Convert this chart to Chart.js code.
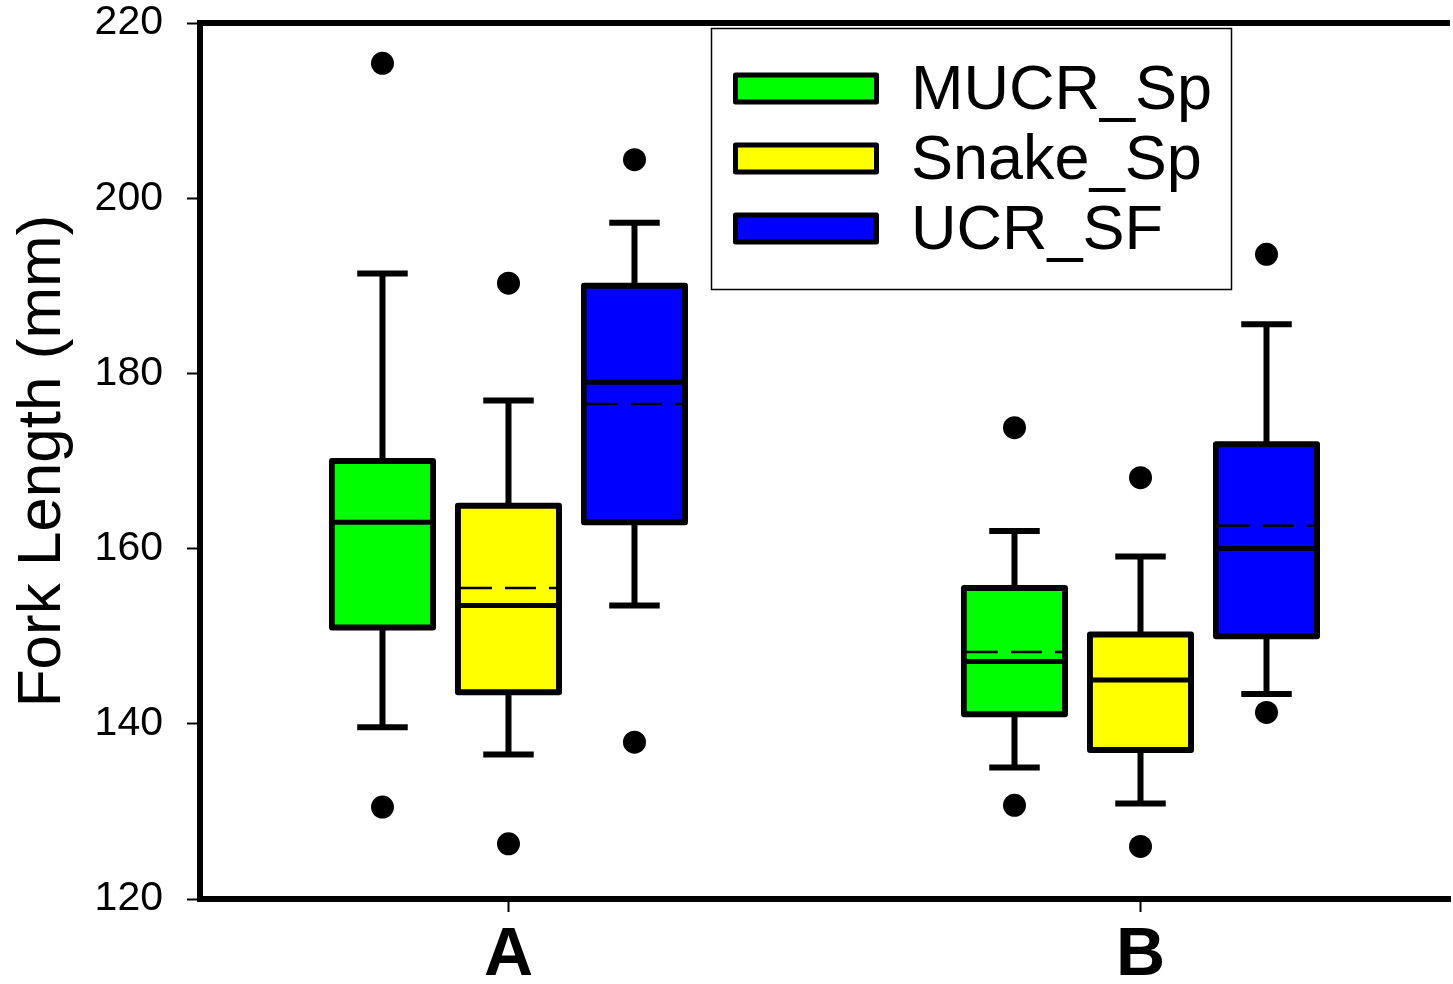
<!DOCTYPE html>
<html>
<head>
<meta charset="utf-8">
<script src="https://cdn.jsdelivr.net/npm/chart.js@4"></script>
<style>
  html, body { margin: 0; padding: 0; background: #ffffff; }
  #c { display: block; }
</style>
</head>
<body>
<canvas id="c" width="1453" height="984"></canvas>
<script>
// ---------------- DATA ----------------
const categories = ['A', 'B'];
const seriesNames = ['MUCR_Sp', 'Snake_Sp', 'UCR_SF'];
const seriesColors = ['#00FF00', '#FFFF00', '#0000FF'];
const yTicks = [120, 140, 160, 180, 200, 220];
// [series][category]
const whiskerLow  = [[139.6, 135.0], [136.5, 130.9], [153.5, 143.4]];
const boxQ1       = [[151.0, 141.1], [143.6, 137.0], [163.0, 150.0]];
const medians     = [[163.0, 147.1], [153.5, 145.0], [179.0, 160.0]];
const means       = [[163.0, 148.2], [155.5, 145.0], [176.5, 162.6]];
const boxQ3       = [[170.0, 155.5], [164.9, 150.2], [190.0, 171.9]];
const whiskerHigh = [[191.4, 162.0], [176.9, 159.1], [197.2, 185.6]];
const outliers    = [
  [[215.4, 130.5], [173.8, 130.7]],
  [[190.3, 126.3], [168.1, 126.0]],
  [[204.4, 137.9], [193.6, 141.3]]
];

const FONT = '"Liberation Sans", Arial, Helvetica, sans-serif';
Chart.defaults.font.family = FONT;
Chart.defaults.color = '#000';

function seg(ctx, x1, y1, x2, y2) {
  ctx.beginPath(); ctx.moveTo(x1, y1); ctx.lineTo(x2, y2); ctx.stroke();
}

const boxPlugin = {
  id: 'boxExtras',
  afterDatasetsDraw(chart) {
    const ctx = chart.ctx;
    const y = chart.scales.y;
    chart.data.datasets.forEach((ds, s) => {
      const meta = chart.getDatasetMeta(s);
      meta.data.forEach((bar, i) => {
        const cx = bar.x, w = bar.width;
        const left = cx - w / 2, right = cx + w / 2;
        const pq1 = y.getPixelForValue(boxQ1[s][i]);
        const pq3 = y.getPixelForValue(boxQ3[s][i]);
        const pHi = y.getPixelForValue(whiskerHigh[s][i]);
        const pLo = y.getPixelForValue(whiskerLow[s][i]);
        const pMed = y.getPixelForValue(medians[s][i]);
        const pMean = y.getPixelForValue(means[s][i]);
        const capHalf = w * 0.25;
        ctx.save();
        ctx.strokeStyle = '#000';
        ctx.fillStyle = '#000';
        ctx.lineCap = 'butt';
        // whiskers
        ctx.lineWidth = 6;
        seg(ctx, cx, pq3, cx, pHi);
        seg(ctx, cx, pq1, cx, pLo);
        seg(ctx, cx - capHalf, pHi, cx + capHalf, pHi);
        seg(ctx, cx - capHalf, pLo, cx + capHalf, pLo);
        // mean (dashed)
        ctx.lineWidth = 2.5;
        ctx.setLineDash([31, 13]);
        seg(ctx, left + 3, pMean, right - 3, pMean);
        ctx.setLineDash([]);
        // median
        ctx.lineWidth = 5;
        seg(ctx, left, pMed, right, pMed);
        // box outline
        ctx.lineWidth = 6;
        ctx.lineJoin = 'round';
        ctx.strokeRect(left, pq3, w, pq1 - pq3);
        // outliers
        outliers[s][i].forEach(v => {
          ctx.beginPath();
          ctx.arc(cx, y.getPixelForValue(v), 11.5, 0, Math.PI * 2);
          ctx.fill();
        });
        ctx.restore();
      });
    });
  },
  afterDraw(chart) {
    const ctx = chart.ctx;
    const a = chart.chartArea;
    ctx.save();
    ctx.strokeStyle = '#000';
    ctx.fillStyle = '#000';
    ctx.lineWidth = 6;
    seg(ctx, a.left - 3, a.top, a.right, a.top);
    ctx.fillRect(a.left - 3, a.bottom - 1, 4, 4);
    // legend
    ctx.lineWidth = 1.5;
    ctx.strokeRect(711.5, 28.5, 520, 261);
    ctx.font = '63px ' + FONT;
    ctx.textBaseline = 'alphabetic';
    ctx.textAlign = 'left';
    seriesNames.forEach((name, k) => {
      const cy = 88.5 + k * 70;
      ctx.fillStyle = seriesColors[k];
      ctx.fillRect(735.5, cy - 13.5, 141, 27);
      ctx.lineWidth = 5;
      ctx.lineJoin = 'round';
      ctx.strokeStyle = '#000';
      ctx.strokeRect(735.5, cy - 13.5, 141, 27);
      ctx.fillStyle = '#000';
      ctx.fillText(name, 911, cy + 20.5);
    });
    ctx.restore();
  }
};

new Chart(document.getElementById('c'), {
  type: 'bar',
  data: {
    datasets: seriesNames.map((name, s) => ({
      label: name,
      data: categories.map((c, i) => ({ x: i + 1, y: [boxQ1[s][i], boxQ3[s][i]] })),
      backgroundColor: seriesColors[s],
      borderWidth: 0,
      categoryPercentage: 0.5981,
      barPercentage: 0.8016
    }))
  },
  options: {
    responsive: false,
    animation: false,
    layout: { padding: { top: 0, right: 3, left: 0, bottom: 0 } },
    plugins: { legend: { display: false }, tooltip: { enabled: false } },
    scales: {
      x: {
        type: 'linear',
        min: 0.5119,
        max: 2.4897,
        offset: false,
        afterBuildTicks: (sc) => { sc.ticks = categories.map((c, i) => ({ value: i + 1 })); },
        ticks: {
          callback: (v) => categories[Math.round(v) - 1] || '',
          font: { size: 68, weight: 'bold' },
          color: '#000',
          padding: 3,
          maxRotation: 0,
          autoSkip: false
        },
        grid: { display: true, drawOnChartArea: false, drawTicks: true, tickLength: 13, tickWidth: 2, tickColor: '#000', offset: false },
        border: { display: true, width: 6, color: '#000' },
        afterFit: (sc) => { sc.height = 85; sc.paddingLeft = 0; sc.paddingRight = 0; }
      },
      y: {
        min: 120,
        max: 220,
        afterBuildTicks: (sc) => { sc.ticks = yTicks.map(v => ({ value: v })); },
        ticks: { font: { size: 41, lineHeight: 1.12 }, color: '#000', padding: 24 },
        grid: { display: true, drawOnChartArea: false, drawTicks: true, tickLength: 13, tickWidth: 2, tickColor: '#000' },
        border: { display: true, width: 6, color: '#000' },
        title: { display: true, text: 'Fork Length (mm)', font: { size: 62 }, color: '#000', padding: { top: 6, bottom: 0 } },
        afterFit: (sc) => { sc.width = 200; sc.paddingTop = 23; sc.paddingBottom = 0; }
      }
    }
  },
  plugins: [boxPlugin]
});
</script>
</body>
</html>
